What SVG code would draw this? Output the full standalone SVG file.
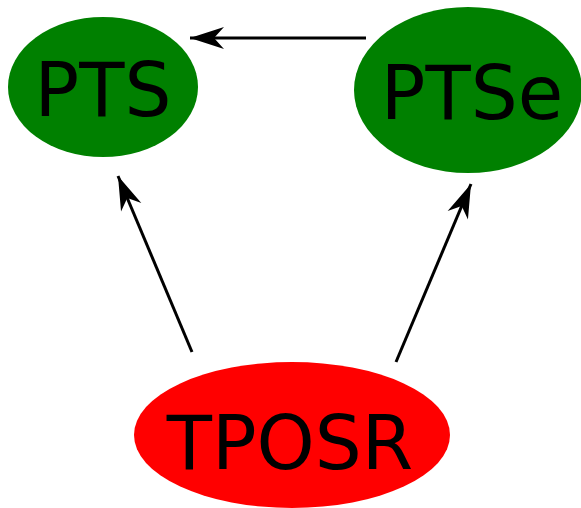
<svg xmlns="http://www.w3.org/2000/svg" width="581" height="508" viewBox="0 0 581 508">
<style>
.lbl{font-family:"DejaVu Sans",sans-serif;font-size:74px;fill:#000;text-anchor:middle}
.e{stroke:#000;stroke-width:3;fill:none}
</style>
<defs>
<marker id="ah" markerUnits="userSpaceOnUse" viewBox="-36 -13 38 26" refX="0" refY="0" markerWidth="38" markerHeight="26" orient="auto">
<path d="M0,0 L-34,-11 L-24,0 L-34,11 Z" fill="#000"/>
</marker>
</defs>
<g id="connectors">
<line class="e" x1="366" y1="38" x2="190" y2="38" marker-end="url(#ah)"/>
<line class="e" x1="192" y1="352" x2="118" y2="176" marker-end="url(#ah)"/>
<line class="e" x1="396" y1="362" x2="471" y2="184" marker-end="url(#ah)"/>
</g>
<g id="PTS">
<ellipse cx="103" cy="87" rx="95" ry="70" fill="#008000"/>
<text class="lbl" x="103" y="116">PTS</text>
</g>
<g id="PTSe">
<ellipse cx="468" cy="90" rx="114" ry="83" fill="#008000"/>
<text class="lbl" x="472" y="119">PTSe</text>
</g>
<g id="TPOSR">
<ellipse cx="292" cy="435" rx="158" ry="73" fill="#ff0000"/>
<text class="lbl" x="290" y="469">TPOSR</text>
</g>
</svg>
